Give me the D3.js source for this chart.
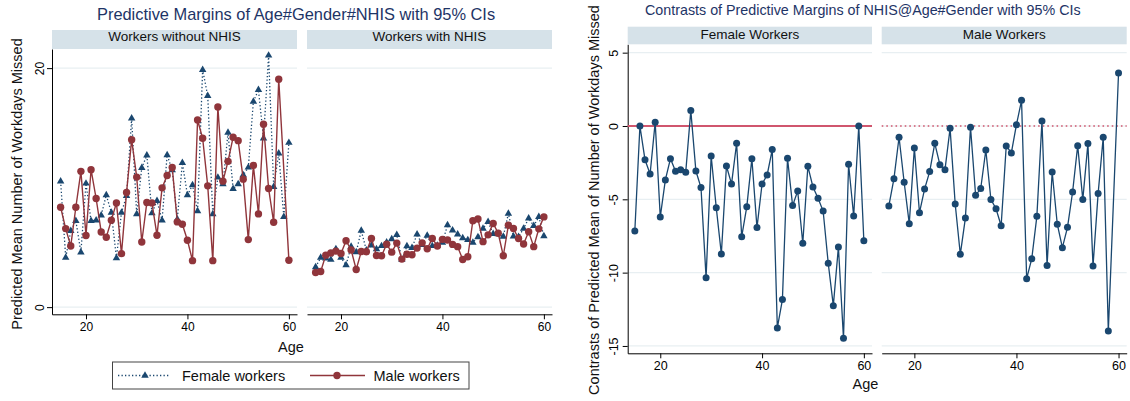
<!DOCTYPE html>
<html>
<head>
<meta charset="utf-8">
<script src="https://cdn.jsdelivr.net/npm/d3@7"></script>
<style>
  body { margin: 0; background: #fff; }
  svg { display: block; }
  text { font-family: "Liberation Sans", Arial, sans-serif; }
</style>
</head>
<body>
<svg id="chart" width="1130" height="401"></svg>
<script>
// ---- data -------------------------------------------------------------
const ages = [15,16,17,18,19,20,21,22,23,24,25,26,27,28,29,30,31,32,33,34,35,36,37,38,
              39,40,41,42,43,44,45,46,47,48,49,50,51,52,53,54,55,56,57,58,59,60];

// predicted mean workdays missed, workers without NHIS
const femaleWithout = [10.53,4.14,6.38,7.22,4.59,10.35,7.22,7.27,7.69,9.37,7.92,4.11,7.92,9.31,15.8,
  7.78,11.66,12.7,7.86,8.89,7.27,12.73,11.47,7.35,12.08,9.37,10.21,8.03,19.86,17.68,7.78,10.85,
  10.29,14.6,9.9,10.29,11.05,11.69,17.2,18.18,14.13,21.06,10.07,12.87,7.55,13.76];
const maleWithout = [8.36,6.57,5.12,8.36,11.36,5.99,11.5,9.09,6.29,5.85,7.27,8.72,4.48,9.6,14.01,
  10.88,5.45,8.76,8.72,6.01,9.98,11.02,11.69,7.13,6.94,5.6,3.89,15.66,14.13,10.15,3.89,16.75,
  10.54,12.2,14.21,13.93,10.71,5.65,11.86,7.8,15.3,9.93,7.1,19.07,null,3.92];

// predicted mean workdays missed, workers with NHIS
const femaleWith = [3.36,4.14,4.08,3.97,4.87,4.14,3.52,5.07,4.6,6.41,4.76,5.16,4.85,5.12,5.43,
  5.7,6.05,3.97,5.11,4.96,6.1,5.22,5.99,5.12,5.15,5.4,6.86,6.43,6.1,5.78,5.62,5.41,
  5.87,6.58,7.14,6.13,6.12,5.91,7.83,5.93,5.88,6.58,7.43,6.8,7.55,5.94];
const maleWith = [2.9,2.98,4.35,4.53,4.69,4.49,5.56,4.78,3.15,4.65,4.63,5.74,4.32,4.3,5.26,
  4.6,5.36,4.02,4.42,4.38,4.94,5.38,4.88,5.75,5.11,5.67,5.62,5.25,5.06,3.98,4.22,7.23,
  7.38,5.48,6.05,7.0,6.18,4.3,6.85,6.58,5.74,5.28,6.31,5.06,6.55,7.55];

// contrasts (with NHIS minus without NHIS)
const femaleContrast = [-7.16,0.0,-2.30,-3.27,0.25,-6.20,-3.68,-2.23,-3.09,-2.98,-3.16,1.05,-3.07,
  -4.20,-10.34,-2.05,-5.57,-8.73,-2.73,-3.95,-1.18,-7.55,-5.50,-2.23,-6.93,-3.95,-3.34,-1.61,
  -13.77,-11.84,-2.20,-5.43,-4.43,-8.00,-2.75,-4.16,-4.93,-5.80,-9.36,-12.25,-8.25,-14.48,
  -2.61,-6.14,0.0,-7.82];
const maleContrast = [-5.45,-3.59,-0.77,-3.84,-6.66,-1.50,-5.91,-4.30,-3.11,-1.18,-2.64,-2.98,-0.16,
  -5.32,-8.75,-6.27,-0.09,-4.73,-4.27,-1.64,-5.02,-5.64,-6.80,-1.36,-1.84,0.09,1.75,-10.41,
  -9.05,-6.16,0.34,-9.52,-3.14,-6.70,-8.30,-6.91,-4.50,-1.34,-5.02,-1.20,-9.55,-4.61,-0.77,
  -13.98,null,3.61];

const xTicks = [20, 40, 60];
const marginTicks = [0, 20];
const contrastTicks = [5, 0, -5, -10, -15];
const marginPanels = ["Workers without NHIS", "Workers with NHIS"];
const contrastPanels = ["Female Workers", "Male Workers"];
const legendLabels = ["Female workers", "Male workers"];
const titles = ["Predictive Margins of Age#Gender#NHIS with 95% CIs",
                "Contrasts of Predictive Margins of NHIS@Age#Gender with 95% CIs"];
const yTitles = ["Predicted Mean Number of Workdays Missed",
                 "Contrasts of Predicted Mean of Number of Workdays Missed"];
const xTitle = "Age";

// ---- styling ----------------------------------------------------------
const NAVY = "#1a476f", MAROON = "#90353b", STRIP = "#d6e2e9", GRID = "#e8eff2";
const TITLE_COL = "#1e3466", REF = "#d0566e";
const FONT = '"Liberation Sans", Arial, sans-serif';
const TRI = 24, DOT = 3.7, CDOT = 3.5;

const svg = d3.select("#chart");
svg.append("rect").attr("width", 1130).attr("height", 401).attr("fill", "#fff");

const pts = vals => ages.map((a, i) => ({ age: a, v: vals[i] })).filter(d => d.v != null);

function panel(o) {
  const x = d3.scaleLinear().domain(o.xDomain).range([o.left, o.right]);
  const y = d3.scaleLinear().domain(o.yDomain).range([o.bottom, o.top]);
  const g = svg.append("g");

  g.append("rect").attr("x", o.left).attr("y", o.stripTop)
    .attr("width", o.right - o.left).attr("height", o.top - o.stripTop).attr("fill", STRIP);
  g.append("text").attr("x", (o.left + o.right) / 2).attr("y", o.stripBase)
    .attr("text-anchor", "middle").style("font-size", "13.5px").attr("fill", "#111").text(o.strip);

  g.append("g").selectAll("line").data(o.ticks).join("line")
    .attr("x1", o.left).attr("x2", o.right)
    .attr("y1", d => y(d)).attr("y2", d => y(d))
    .attr("stroke", GRID).attr("stroke-width", 1.2);

  const ax = g.append("g").attr("transform", `translate(0,${o.bottom})`)
    .call(d3.axisBottom(x).tickValues(xTicks).tickSize(5).tickSizeOuter(0).tickPadding(3)
      .tickFormat(d => String(d)));
  ax.attr("font-family", FONT).attr("font-size", o.tickFont);
  ax.selectAll("line, path").attr("stroke", "#000");

  if (o.yAxis) {
    const ay = g.append("g").attr("transform", `translate(${o.left},0)`)
      .call(d3.axisLeft(y).tickValues(o.ticks).tickSize(5).tickSizeOuter(0)
        .tickFormat(d => String(d)));
    ay.attr("font-family", FONT).attr("font-size", o.tickFont);
    ay.selectAll("line, path").attr("stroke", "#000");
    ay.selectAll(".tick text").attr("x", 0).attr("y", o.yLabelOff).attr("dy", 0)
      .attr("text-anchor", "middle").attr("transform", "rotate(-90)");
  }
  return { g, x, y };
}

function drawFemale(p, vals) {
  const d = pts(vals);
  p.g.append("path").datum(d)
    .attr("d", d3.line().x(e => p.x(e.age)).y(e => p.y(e.v)))
    .attr("fill", "none").attr("stroke", NAVY).attr("stroke-width", 1.3)
    .attr("stroke-dasharray", "1.3 2.2");
  p.g.append("g").selectAll("path").data(d).join("path")
    .attr("transform", e => `translate(${p.x(e.age)},${p.y(e.v)})`)
    .attr("d", d3.symbol(d3.symbolTriangle, TRI)).attr("fill", NAVY);
}
function drawMale(p, vals) {
  const d = pts(vals);
  p.g.append("path").datum(d)
    .attr("d", d3.line().x(e => p.x(e.age)).y(e => p.y(e.v)))
    .attr("fill", "none").attr("stroke", MAROON).attr("stroke-width", 1.4);
  p.g.append("g").selectAll("circle").data(d).join("circle")
    .attr("cx", e => p.x(e.age)).attr("cy", e => p.y(e.v)).attr("r", DOT).attr("fill", MAROON);
}
function drawContrast(p, vals, solidRef) {
  p.g.append("line").attr("x1", p.x.range()[0]).attr("x2", p.x.range()[1])
    .attr("y1", p.y(0)).attr("y2", p.y(0))
    .attr("stroke", REF).attr("stroke-width", solidRef ? 1.8 : 1.6)
    .attr("stroke-dasharray", solidRef ? null : "1.6 3");
  const d = pts(vals);
  p.g.append("path").datum(d)
    .attr("d", d3.line().x(e => p.x(e.age)).y(e => p.y(e.v)))
    .attr("fill", "none").attr("stroke", NAVY).attr("stroke-width", 1.3);
  p.g.append("g").selectAll("circle").data(d).join("circle")
    .attr("cx", e => p.x(e.age)).attr("cy", e => p.y(e.v)).attr("r", CDOT).attr("fill", NAVY);
}

// ---- left graph: predictive margins ----------------------------------
const mBase = { xDomain: [13.3, 61.6], yDomain: [-0.6, 21.6], top: 49, bottom: 314.3,
  stripTop: 30, stripBase: 41.4, ticks: marginTicks, tickFont: 12, yLabelOff: -8.5 };
const m1 = panel({ ...mBase, left: 52, right: 297, strip: marginPanels[0], yAxis: true });
const m2 = panel({ ...mBase, left: 307, right: 552, strip: marginPanels[1], yAxis: false });
drawFemale(m1, femaleWithout); drawMale(m1, maleWithout);
drawFemale(m2, femaleWith);    drawMale(m2, maleWith);

svg.append("text").attr("x", 97).attr("y", 20).style("font-size", "16.4px")
  .attr("fill", TITLE_COL).text(titles[0]);
svg.append("text").attr("transform", "translate(22,184) rotate(-90)").attr("text-anchor", "middle")
  .style("font-size", "14.5px").attr("fill", "#111").text(yTitles[0]);
svg.append("text").attr("x", 291).attr("y", 352).attr("text-anchor", "middle")
  .style("font-size", "14.5px").attr("fill", "#111").text(xTitle);

// legend
const lg = svg.append("g");
lg.append("rect").attr("x", 112.5).attr("y", 362).attr("width", 356.5).attr("height", 27)
  .attr("fill", "#fff").attr("stroke", "#444").attr("stroke-width", 1);
lg.append("line").attr("x1", 118).attr("x2", 170).attr("y1", 375.5).attr("y2", 375.5)
  .attr("stroke", NAVY).attr("stroke-width", 1.3).attr("stroke-dasharray", "1.3 2.2");
lg.append("path").attr("transform", "translate(145,375.5)")
  .attr("d", d3.symbol(d3.symbolTriangle, TRI)).attr("fill", NAVY);
lg.append("text").attr("x", 182).attr("y", 380.7).style("font-size", "14.5px")
  .attr("fill", "#111").text(legendLabels[0]);
lg.append("line").attr("x1", 310).attr("x2", 365).attr("y1", 375.5).attr("y2", 375.5)
  .attr("stroke", MAROON).attr("stroke-width", 1.4);
lg.append("circle").attr("cx", 337).attr("cy", 375.5).attr("r", DOT).attr("fill", MAROON);
lg.append("text").attr("x", 373.5).attr("y", 380.7).style("font-size", "14.5px")
  .attr("fill", "#111").text(legendLabels[1]);

// ---- right graph: contrasts ------------------------------------------
const cBase = { xDomain: [13.6, 61.6], yDomain: [-15.5, 5.57], top: 44.3, bottom: 353.3,
  stripTop: 26.7, stripBase: 39.3, ticks: contrastTicks, tickFont: 12.5, yLabelOff: -10 };
const c1 = panel({ ...cBase, left: 627.7, right: 872, strip: contrastPanels[0], yAxis: true });
const c2 = panel({ ...cBase, left: 881.7, right: 1126.7, strip: contrastPanels[1], yAxis: false });
drawContrast(c1, femaleContrast, true);
drawContrast(c2, maleContrast, false);

svg.append("text").attr("x", 645).attr("y", 15.3).style("font-size", "14.3px")
  .attr("fill", TITLE_COL).text(titles[1]);
svg.append("text").attr("transform", "translate(598.5,200) rotate(-90)").attr("text-anchor", "middle")
  .style("font-size", "14.5px").attr("fill", "#111").text(yTitles[1]);
svg.append("text").attr("x", 865.5).attr("y", 388.7).attr("text-anchor", "middle")
  .style("font-size", "14.5px").attr("fill", "#111").text(xTitle);
</script>
</body>
</html>
